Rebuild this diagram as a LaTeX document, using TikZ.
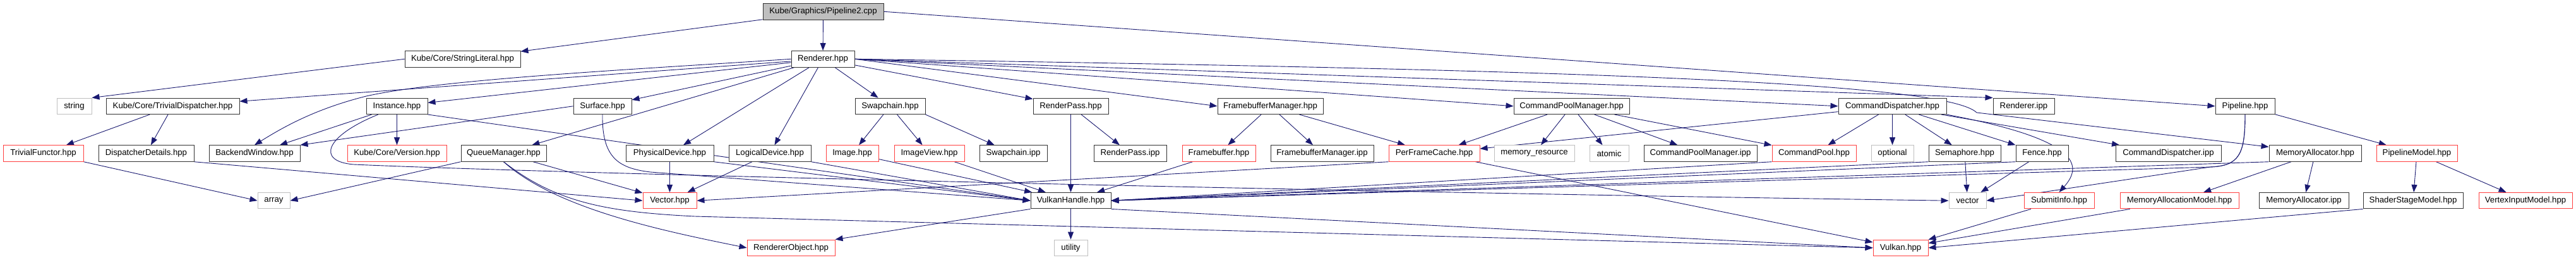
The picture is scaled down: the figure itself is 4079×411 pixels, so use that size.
\documentclass[tikz,border=0pt]{standalone}
\usepackage{fontspec}
\setmainfont{Liberation Sans}
\usetikzlibrary{arrows.meta,backgrounds}
\definecolor{edgeblue}{RGB}{25,25,112}
\definecolor{rootgray}{gray}{0.75}
\definecolor{cutred}{RGB}{255,64,64}

\begin{document}
\begin{tikzpicture}[x=1pt, y=-1pt,
  hdr/.style={draw=black!80, line width=1pt, fill=white, inner sep=0pt, minimum height=25.5pt, font=\fontsize{13.2}{15}\selectfont},
  root/.style={hdr, fill=rootgray},
  cut/.style={hdr, draw=cutred},
  std/.style={hdr, draw=rootgray},
  wd/.style={minimum width=#1pt},
  arr/.style={-{Triangle[length=12pt, width=9pt]}, draw=edgeblue, line width=0.9pt}
]
\useasboundingbox (0,0) rectangle (4079,411);

\node[root, wd=191] (p2) at (1303.5,18.3) {Kube/Graphics/Pipeline2.cpp};
\node[hdr, wd=100] (renderer) at (1303,93.3) {Renderer.hpp};
\node[hdr, wd=183] (strlit) at (732.5,93.3) {Kube/Core/StringLiteral.hpp};

\node[std, wd=55] (string) at (117.5,167.8) {string};
\node[hdr, wd=211] (trivdisp) at (273.5,167.8) {Kube/Core/TrivialDispatcher.hpp};
\node[hdr, wd=97] (instance) at (628.5,167.8) {Instance.hpp};
\node[hdr, wd=92] (surface) at (954,167.8) {Surface.hpp};
\node[hdr, wd=111] (swapchain) at (1409.5,167.8) {Swapchain.hpp};
\node[hdr, wd=119] (renderpass) at (1695.5,167.8) {RenderPass.hpp};
\node[hdr, wd=167] (fbmgr) at (2011.5,167.8) {FramebufferManager.hpp};
\node[hdr, wd=183] (cpmgr) at (2488.5,167.8) {CommandPoolManager.hpp};
\node[hdr, wd=171] (cmddisp) at (2996.5,167.8) {CommandDispatcher.hpp};
\node[hdr, wd=97] (rendipp) at (3204.5,167.8) {Renderer.ipp};
\node[hdr, wd=94] (pipeline) at (3555,167.8) {Pipeline.hpp};

\node[cut, wd=127] (trivfunc) at (68.5,242.5) {TrivialFunctor.hpp};
\node[hdr, wd=151] (dispdet) at (231.5,242.5) {DispatcherDetails.hpp};
\node[hdr, wd=144] (backend) at (403,242.5) {BackendWindow.hpp};
\node[cut, wd=157] (version) at (628.5,242.5) {Kube/Core/Version.hpp};
\node[hdr, wd=135] (queue) at (797.5,242.5) {QueueManager.hpp};
\node[hdr, wd=139] (physdev) at (1060.5,242.5) {PhysicalDevice.hpp};
\node[hdr, wd=130] (logdev) at (1219,242.5) {LogicalDevice.hpp};
\node[cut, wd=83] (image) at (1349.5,242.5) {Image.hpp};
\node[cut, wd=111] (imageview) at (1471.5,242.5) {ImageView.hpp};
\node[hdr, wd=107] (swapipp) at (1604.5,242.5) {Swapchain.ipp};
\node[hdr, wd=115] (rpipp) at (1789.5,242.5) {RenderPass.ipp};
\node[cut, wd=116] (framebuffer) at (1930,242.5) {Framebuffer.hpp};
\node[hdr, wd=163] (fbmgripp) at (2093.5,242.5) {FramebufferManager.ipp};
\node[cut, wd=144] (perframe) at (2271,242.5) {PerFrameCache.hpp};
\node[std, wd=127] (memres) at (2429.5,242.5) {memory\_resource};
\node[std, wd=62] (atomic) at (2548,242.5) {atomic};
\node[hdr, wd=179] (cpmgripp) at (2692.5,242.5) {CommandPoolManager.ipp};
\node[cut, wd=133] (cmdpool) at (2872.5,242.5) {CommandPool.hpp};
\node[std, wd=67] (optional) at (2996.5,242.5) {optional};
\node[hdr, wd=114] (semaphore) at (3111,242.5) {Semaphore.hpp};
\node[hdr, wd=83] (fence) at (3233.5,242.5) {Fence.hpp};
\node[hdr, wd=167] (cdipp) at (3433.5,242.5) {CommandDispatcher.ipp};
\node[hdr, wd=146] (memalloc) at (3666,242.5) {MemoryAllocator.hpp};
\node[cut, wd=128] (pipemodel) at (3827,242.5) {PipelineModel.hpp};

\node[std, wd=51] (array) at (433.5,317.2) {array};
\node[cut, wd=85] (vec) at (1060.5,317.2) {Vector.hpp};
\node[hdr, wd=127] (vkhandle) at (1695.5,317.2) {VulkanHandle.hpp};
\node[std, wd=59] (stdvector) at (3115.5,317.2) {vector};
\node[cut, wd=111] (submit) at (3260.5,317.2) {SubmitInfo.hpp};
\node[cut, wd=188] (memmodel) at (3451,317.2) {MemoryAllocationModel.hpp};
\node[hdr, wd=142] (maipp) at (3648,317.2) {MemoryAllocator.ipp};
\node[hdr, wd=158] (shader) at (3821,317.2) {ShaderStageModel.hpp};
\node[cut, wd=148] (vertex) at (3999,317.2) {VertexInputModel.hpp};

\node[cut, wd=139] (rendobj) at (1252.5,391.8) {RendererObject.hpp};
\node[std, wd=53] (utility) at (1695.5,391.8) {utility};
\node[cut, wd=87] (vulkan) at (3009.5,391.8) {Vulkan.hpp};

\begin{scope}[on background layer]
\draw[arr] (p2) -- (renderer);
\draw[arr] (p2) -- (strlit);
\draw[arr] (p2.east) -- (pipeline.west);
\draw[arr] (strlit.west) -- (string.north east);
\draw[arr] (renderer) -- (trivdisp);
\draw[arr] (renderer.west) .. controls (1000,110) and (700,125) .. (580,152) .. controls (500,172) and (450,200) .. (backend.north);
\draw[arr] (renderer) -- (instance);
\draw[arr] (renderer) -- (surface);
\draw[arr] (renderer) -- (queue);
\draw[arr] (renderer) -- (physdev);
\draw[arr] (renderer) -- (logdev);
\draw[arr] (renderer) -- (swapchain);
\draw[arr] (renderer) -- (renderpass);
\draw[arr] (renderer.east) -- (fbmgr.west);
\draw[arr] (renderer.east) -- (cpmgr.west);
\draw[arr] (renderer.east) -- (cmddisp.west);
\draw[arr] (renderer.east) -- (rendipp.north west);
\draw[arr] (renderer.east) .. controls (2500,110) and (3080,130) .. (3130,178) -- (memalloc.172);
\draw[arr] (trivdisp) -- (trivfunc);
\draw[arr] (trivdisp) -- (dispdet);
\draw[arr] (trivfunc.south east) -- (array.west);
\draw[arr] (dispdet.south east) -- (vec.west);
\draw[arr] (instance) -- (version);
\draw[arr] (instance) -- (backend);
\draw[arr] (instance.south east) -- (vkhandle.west);
\draw[arr] (instance.204) .. controls (515,215) and (500,255) .. (560,260) .. controls (900,275) and (2200,305) .. (stdvector.west);
\draw[arr] (surface.west) -- (backend.north east);
\draw[arr] (surface.south) .. controls (953,250) and (980,266) .. (1030,272) -- (vkhandle.west);
\draw[arr] (queue.south west) -- (array.east);
\draw[arr] (queue) -- (vec);
\draw[arr] (queue.south) .. controls (880,330) and (1050,365) .. (rendobj.west);
\draw[arr] (queue.south) .. controls (880,320) and (960,335) .. (1100,342) -- (vulkan.west);
\draw[arr] (physdev) -- (vec);
\draw[arr] (physdev.south east) -- (vkhandle.west);
\draw[arr] (logdev) -- (vec);
\draw[arr] (logdev.south east) -- (vkhandle.west);
\draw[arr] (swapchain) -- (image);
\draw[arr] (swapchain) -- (imageview);
\draw[arr] (swapchain.south east) -- (swapipp);
\draw[arr] (image) -- (vkhandle);
\draw[arr] (imageview) -- (vkhandle);
\draw[arr] (renderpass) -- (vkhandle);
\draw[arr] (renderpass) -- (rpipp);
\draw[arr] (fbmgr) -- (fbmgripp);
\draw[arr] (fbmgr) -- (perframe);
\draw[arr] (fbmgr) -- (framebuffer);
\draw[arr] (framebuffer) -- (vkhandle);
\draw[arr] (perframe.south west) -- (vec.east);
\draw[arr] (perframe) -- (vulkan);
\draw[arr] (cpmgr) -- (perframe);
\draw[arr] (cpmgr) -- (memres);
\draw[arr] (cpmgr) -- (atomic);
\draw[arr] (cpmgr) -- (cpmgripp);
\draw[arr] (cpmgr) -- (cmdpool);
\draw[arr] (cmdpool.south west) -- (vkhandle.east);
\draw[arr] (cmddisp) -- (perframe);
\draw[arr] (cmddisp) -- (cmdpool);
\draw[arr] (cmddisp) -- (optional);
\draw[arr] (cmddisp) -- (semaphore);
\draw[arr] (cmddisp) -- (fence);
\draw[arr] (cmddisp) -- (cdipp);
\draw[arr] (cmddisp.south east) .. controls (3290,220) and (3300,260) .. (submit.north);
\draw[arr] (semaphore) -- (stdvector);
\draw[arr] (semaphore.south west) -- (vkhandle.east);
\draw[arr] (fence) -- (stdvector);
\draw[arr] (fence.south west) -- (vkhandle.east);
\draw[arr] (submit) -- (vulkan);
\draw[arr] (memalloc.south west) -- (vkhandle.east);
\draw[arr] (memalloc) -- (memmodel);
\draw[arr] (memalloc) -- (maipp);
\draw[arr] (memmodel) -- (vulkan);
\draw[arr] (pipeline) -- (pipemodel);
\draw[arr] (pipeline.south) .. controls (3555,245) and (3545,262) .. (3500,264) -- (stdvector.east);
\draw[arr] (pipeline.south) .. controls (3555,245) and (3545,262) .. (3500,264) -- (vkhandle.east);
\draw[arr] (pipemodel) -- (shader);
\draw[arr] (pipemodel) -- (vertex);
\draw[arr] (shader.south west) -- (vulkan.east);
\draw[arr] (vkhandle.south west) -- (rendobj.north east);
\draw[arr] (vkhandle.south east) -- (vulkan.west);
\draw[arr] (vkhandle) -- (utility);
\end{scope}
\end{tikzpicture}
\end{document}
